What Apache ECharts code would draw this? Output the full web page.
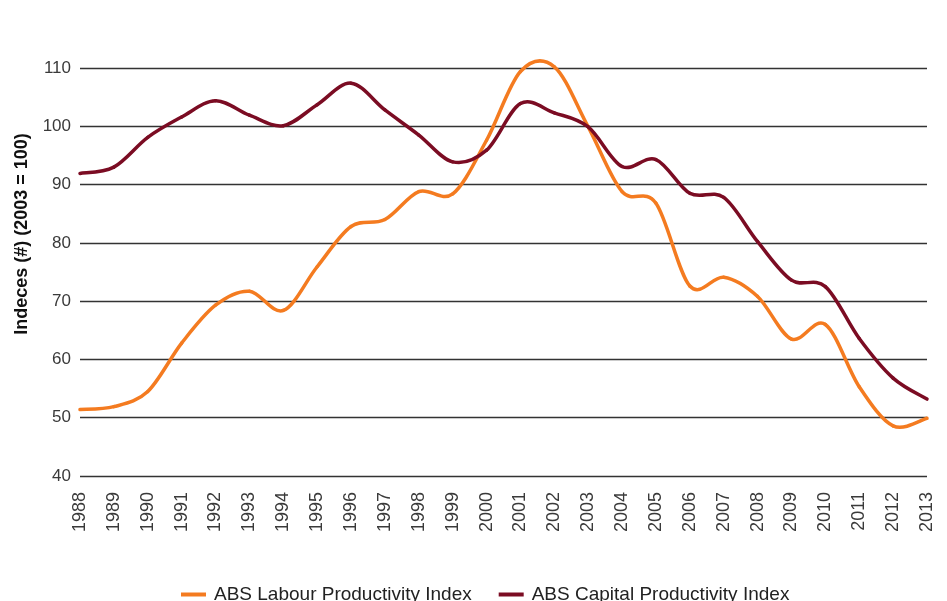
<!DOCTYPE html>
<html>
<head>
<meta charset="utf-8">
<script src="https://cdn.jsdelivr.net/npm/echarts@6/dist/echarts.min.js"></script>
<style>
  html, body { margin: 0; padding: 0; background: #fff; }
  #chart { width: 947px; height: 601px; }
</style>
</head>
<body>
<div id="chart"></div>
<script>
// years on the x axis
const years = ['1988', '1989', '1990', '1991', '1992', '1993', '1994', '1995', '1996', '1997', '1998', '1999', '2000',
  '2001', '2002', '2003', '2004', '2005', '2006', '2007', '2008', '2009', '2010', '2011', '2012', '2013'];

// ABS Labour Productivity Index (2003 = 100)
const labour = [51.4, 51.9, 54.5, 62.8, 69.3, 71.7, 68.4, 75.9, 82.8, 84.0, 88.8, 88.4, 97.6,
  109.4, 110.2, 99.9, 88.8, 86.8, 72.6, 74.1, 70.8, 63.5, 66.0, 55.3, 48.6, 49.9];

// ABS Capital Productivity Index (2003 = 100)
const capital = [91.9, 93.0, 98.1, 101.6, 104.4, 101.9, 100.1, 103.7, 107.4, 102.8, 98.5, 93.9, 95.9,
  103.9, 102.3, 99.9, 93.1, 94.3, 88.5, 87.8, 80.2, 73.6, 72.5, 63.6, 56.8, 53.2];

const yTicks = { min: 40, max: 110, step: 10 };

const font = '"Liberation Sans", Arial, sans-serif';

// smooth line like the spreadsheet one: catmull-rom segments between the points
function smoothLine(name, values, color) {
  return {
    name: name,
    type: 'custom',
    coordinateSystem: 'cartesian2d',
    data: values.map((v, i) => [i, v]),
    encode: { x: 0, y: 1 },
    itemStyle: { color: color },
    silent: true,
    renderItem: function (params, api) {
      const i = params.dataIndex;
      if (i >= values.length - 1) return null;
      const pt = k => {
        k = Math.max(0, Math.min(values.length - 1, k));
        return api.coord([k, values[k]]);
      };
      const p0 = pt(i - 1), p1 = pt(i), p2 = pt(i + 1), p3 = pt(i + 2);
      const t = 1 / 6;
      return {
        type: 'bezierCurve',
        shape: {
          x1: p1[0], y1: p1[1],
          x2: p2[0], y2: p2[1],
          cpx1: p1[0] + (p2[0] - p0[0]) * t, cpy1: p1[1] + (p2[1] - p0[1]) * t,
          cpx2: p2[0] - (p3[0] - p1[0]) * t, cpy2: p2[1] - (p3[1] - p1[1]) * t
        },
        style: { stroke: color, lineWidth: 3.5, fill: null, lineCap: 'round' }
      };
    }
  };
}

let chart = echarts.init(document.getElementById('chart'));

const option = {
  animation: false,
  backgroundColor: '#ffffff',
  grid: { left: 80, right: 20, top: 68, bottom: 125 },
  legend: {
    top: 580,
    left: 176,
    itemWidth: 25,
    itemHeight: 4,
    itemGap: 27,
    icon: 'rect',
    textStyle: { fontFamily: font, fontSize: 19, color: '#222', padding: [0, 0, 0, 3] },
    data: ['ABS Labour Productivity Index', 'ABS Capital Productivity Index']
  },
  graphic: [{
    type: 'text',
    x: 22,
    y: 234,
    rotation: Math.PI / 2,
    style: {
      text: 'Indeces (#) (2003 = 100)',
      align: 'center',
      verticalAlign: 'middle',
      font: 'bold 18px ' + font,
      fill: '#111'
    }
  }],
  xAxis: {
    type: 'category',
    data: years,
    boundaryGap: false,
    axisLine: { show: false },
    axisTick: { show: false },
    axisLabel: {
      rotate: 90,
      margin: 16,
      fontFamily: font,
      fontSize: 18,
      color: '#3a3a3a',
      interval: 0
    }
  },
  yAxis: {
    type: 'value',
    min: yTicks.min,
    max: yTicks.max,
    interval: yTicks.step,
    axisLine: { show: false },
    axisTick: { show: false },
    axisLabel: { fontFamily: font, fontSize: 17, color: '#3a3a3a', margin: 9 },
    splitLine: { lineStyle: { color: '#333', width: 1.3 } }
  },
  series: [
    smoothLine('ABS Labour Productivity Index', labour, '#F47B20'),
    smoothLine('ABS Capital Productivity Index', capital, '#7B0C23')
  ]
};

chart.setOption(option);
</script>
</body>
</html>
